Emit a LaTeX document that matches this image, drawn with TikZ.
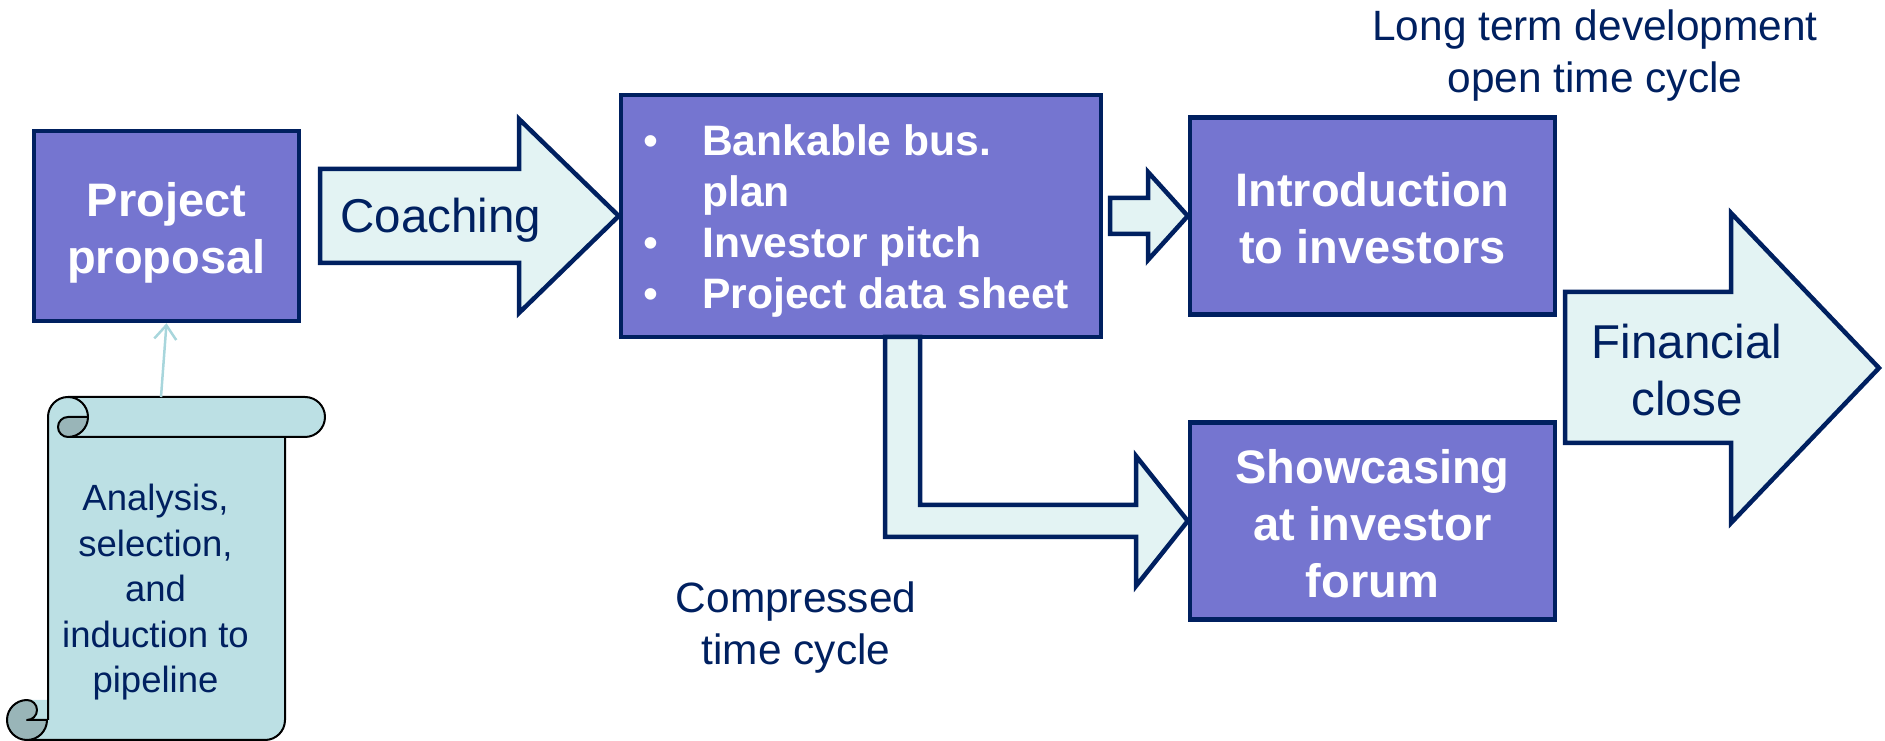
\documentclass[tikz,border=0pt]{standalone}
\usepackage{fontspec}
\setmainfont{Liberation Sans}
\usetikzlibrary{positioning,arrows.meta}

\definecolor{navy}{RGB}{0,32,96}
\definecolor{stagefill}{RGB}{117,117,208}
\definecolor{flowfill}{RGB}{227,243,243}
\definecolor{scrollfill}{RGB}{188,224,228}
\definecolor{curlfill}{RGB}{153,181,184}
\definecolor{feedcolor}{RGB}{168,214,220}

\begin{document}
\begin{tikzpicture}[x=1pt, y=1pt,
    stage/.style={draw=navy, line width=4.5pt, fill=stagefill, text=white, inner sep=4pt,
        font=\fontsize{47}{57}\selectfont\bfseries, align=center},
    flow/.style={draw=navy, line width=4.5pt, fill=flowfill},
    flowtext/.style={text=navy, font=\fontsize{47.5}{57}\selectfont, align=center},
    remark/.style={text=navy, font=\fontsize{42.4}{52}\selectfont, align=center},
    scroll/.style={draw=black, line width=2pt, line join=round},
    feed/.style={draw=feedcolor, line width=2.5pt, -{Straight Barb[length=14pt, width=22pt]}}
]
\useasboundingbox (0,0) rectangle (1885,741);

% scroll
\fill[scrollfill] (48,324) arc[start angle=180, end angle=90, radius=20]
    -- (305,344) arc[start angle=90, end angle=-90, radius=20]
    -- (285,304) -- (285,21) arc[start angle=0, end angle=-90, radius=20]
    -- (27,1) arc[start angle=-90, end angle=-270, radius=20] -| (48,324) -- cycle;
\draw[scroll] (48,21) -- (48,324) arc[start angle=180, end angle=90, radius=20]
    -- (305,344) arc[start angle=90, end angle=-90, radius=20] -- (68,304);
\draw[scroll] (285,304) -- (285,21) arc[start angle=0, end angle=-90, radius=20] -- (27,1);
\draw[scroll] (68,344) arc[start angle=90, end angle=0, radius=20];
\filldraw[scroll, fill=curlfill] (68,324) -- (88,324) arc[start angle=0, end angle=-90, radius=20]
    arc[start angle=-90, end angle=-270, radius=10] -- cycle;
\filldraw[scroll, fill=curlfill] (27,41) arc[start angle=90, end angle=360, radius=20]
    -- (27,21) arc[start angle=-90, end angle=90, radius=10] -- cycle;
\node[text=navy, font=\fontsize{36.5}{45.5}\selectfont, align=center] (screening) at (155.5,148.5)
    {Analysis,\\selection,\\and\\induction to\\pipeline};
\coordinate (scrolltop) at (161,344);

\node[stage, minimum width=265, minimum height=190] (proposal) at (166.5,515) {\rule{0pt}{48pt}Project\\proposal};
\node[stage, minimum width=480, minimum height=242] (plan) at (861,525) {};
\node[anchor=base west, inner sep=0pt, text=white, font=\fontsize{42.6}{51}\selectfont\bfseries]
    (deliverables) at (643,585) {\begin{tabular}[t]{@{}p{59pt}@{}l@{}}
        {\mdseries\textbullet} & Bankable bus.\\
         & plan\\
        {\mdseries\textbullet} & Investor pitch\\
        {\mdseries\textbullet} & Project data sheet
    \end{tabular}};
\node[stage, minimum width=365, minimum height=197, right=84.5pt of plan] (intro) {\rule{0pt}{38pt}Introduction\\to investors};
\node[stage, minimum width=365, minimum height=197, below=103.5pt of intro] (showcase) {\rule{0pt}{38.5pt}Showcasing\\at investor\\forum};

\draw[feed] (scrolltop) -- (proposal.south);

\draw[flow] (320,478) -- (519,478) -- (519,428) -- (plan.west) -- (519,622) -- (519,572) -- (320,572) -- cycle;
\node[flowtext] (coaching) at (441,521) {Coaching};

\draw[flow] (1110,507) -- (1148,507) -- (1148,481) -- (intro.west) -- (1148,569) -- (1148,543) -- (1110,543) -- cycle;

\draw[flow] (885,404) |- (1136,204) -- (1136,155) -- (showcase.west) -- (1136,285) -- (1136,236) -| (920,404) -- cycle;

\draw[flow] (1565,298) -- (1731,298) -- (1731,218) -- (1879,373) -- (1731,528) -- (1731,449) -- (1565,449) -- cycle;
\node[flowtext] (closing) at (1687,371) {Financial\\close};

\node[remark] (longterm) at (1595,685) {Long term development\\open time cycle};
\node[remark] (compressed) at (796,113) {Compressed\\time cycle};
\end{tikzpicture}
\end{document}
